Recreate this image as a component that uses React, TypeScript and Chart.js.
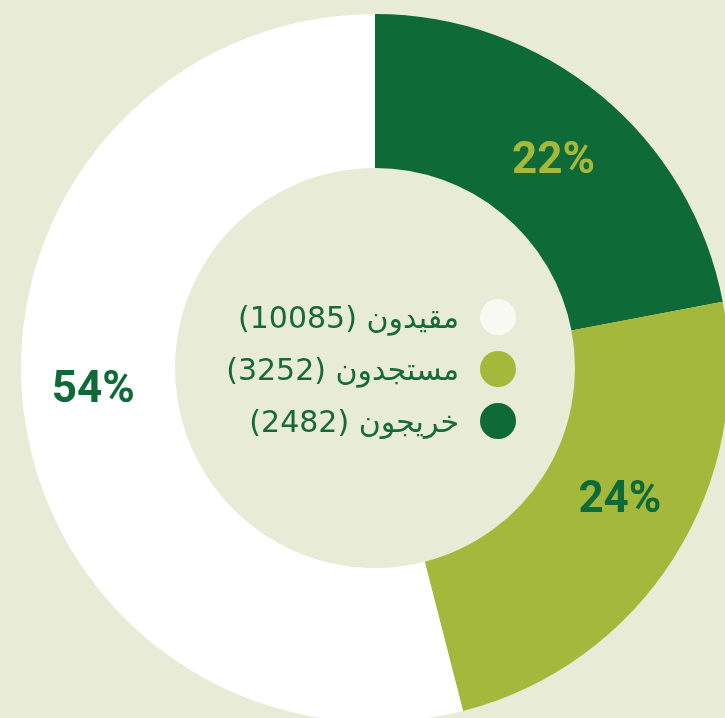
import React, { useEffect, useRef } from "react";
import { Chart, registerables } from "chart.js";
Chart.register(...registerables);

const categories = ["خريجون", "مستجدون", "مقيدون"];
const counts = [2482, 3252, 10085];
const percents = [22, 24, 54];
const sliceColors = ["#0e6a37", "#a4b83b", "#ffffff"];
const labelColors = ["#a4b83b", "#0e6a37", "#0e6a37"];
const legendDotColors = ["#0e6a37", "#a4b83b", "#f8f9f3"];
const legendOrder = [2, 1, 0];

const BG = "#e8ebd6";
const TEXT = "#16693a";
// small visual nudges of the percentage labels from the arc centroid
const labelNudge = [
  [2, 7],
  [11, -15],
  [-7, -12],
];

const pctPlugin = {
  id: "pctLabels",
  afterDatasetsDraw(chart: any) {
    const ctx = chart.ctx;
    const meta = chart.getDatasetMeta(0);
    ctx.save();
    ctx.font = "bold 44px Roboto";
    ctx.textAlign = "center";
    ctx.textBaseline = "middle";
    meta.data.forEach((arc: any, i: number) => {
      const p = arc.tooltipPosition();
      ctx.fillStyle = labelColors[i];
      ctx.fillText(percents[i] + "%", p.x + labelNudge[i][0], p.y + labelNudge[i][1]);
    });
    ctx.restore();
  },
};

export default function App() {
  const ref = useRef<HTMLCanvasElement | null>(null);
  useEffect(() => {
    if (!ref.current) return;
    const chart = new Chart(ref.current, {
      type: "doughnut",
      data: {
        labels: categories,
        datasets: [
          {
            data: percents,
            backgroundColor: sliceColors,
            borderWidth: 0,
          },
        ],
      },
      options: {
        responsive: false,
        animation: false,
        devicePixelRatio: 1,
        cutout: "56.5%",
        layout: { padding: 0 },
        plugins: { legend: { display: false }, tooltip: { enabled: false } },
      },
      plugins: [pctPlugin],
    });
    return () => chart.destroy();
  }, []);

  return (
    <div style={{ position: "fixed", inset: 0, background: BG, overflow: "hidden" }}>
      <div style={{ position: "absolute", left: 21, top: 14, width: 708, height: 708 }}>
        <canvas ref={ref} width={708} height={708} style={{ width: 708, height: 708 }} />
      </div>
      <div style={{ position: "absolute", right: 209, top: 291 }}>
        {legendOrder.map((i) => (
          <div
            key={i}
            dir="rtl"
            style={{ display: "flex", alignItems: "center", height: 52, gap: 21 }}
          >
            <span
              style={{
                width: 36,
                height: 36,
                borderRadius: "50%",
                background: legendDotColors[i],
                flex: "none",
              }}
            />
            <span
              style={{
                fontFamily: "'DejaVu Sans', sans-serif",
                fontSize: 30,
                color: TEXT,
                whiteSpace: "nowrap",
              }}
            >
              {`${categories[i]} (${counts[i]})`}
            </span>
          </div>
        ))}
      </div>
    </div>
  );
}
